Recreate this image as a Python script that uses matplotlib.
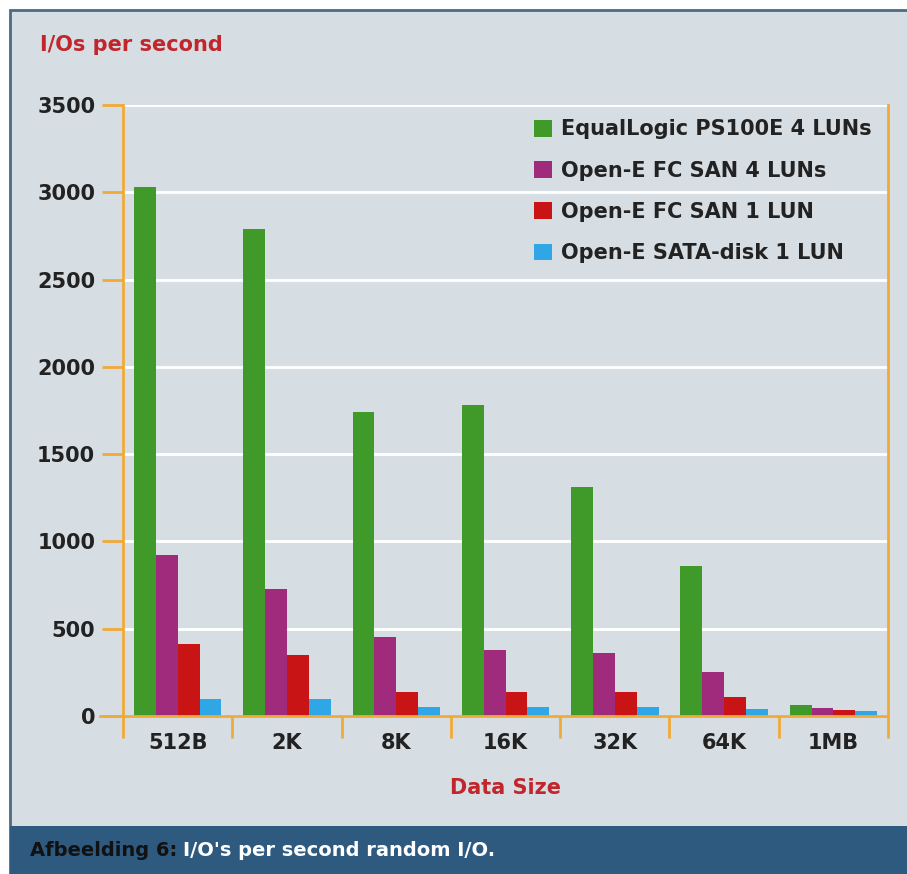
import matplotlib
matplotlib.use("Agg")

import matplotlib.pyplot as plt
import numpy as np
from matplotlib.patches import Rectangle

# data
sizes = ["512B", "2K", "8K", "16K", "32K", "64K", "1MB"]
equallogic_4 = [3030, 2790, 1740, 1780, 1310, 860, 65]
opene_fc_4 = [920, 730, 450, 378, 360, 250, 45]
opene_fc_1 = [410, 350, 135, 135, 135, 110, 35]
opene_sata_1 = [100, 100, 50, 50, 50, 40, 30]

series_names = ["EqualLogic PS100E 4 LUNs", "Open-E FC SAN 4 LUNs",
                "Open-E FC SAN 1 LUN", "Open-E SATA-disk 1 LUN"]
series_colors = ["#3f9a2a", "#a02a7c", "#c81414", "#2fa6e6"]

bg = "#d7dee3"
orange = "#f0aa38"
red_text = "#c0262c"
dark = "#222222"

plt.rcParams["font.family"] = "DejaVu Sans"

fig = plt.figure(figsize=(9.07, 8.74), dpi=100)
fig.patch.set_facecolor("white")

# panel background and caption banner
fig.patches.append(Rectangle((10 / 907, 0), 1, 1 - 10 / 874, transform=fig.transFigure,
                             facecolor=bg, edgecolor="#4d6b82", linewidth=2, zorder=-2))
fig.patches.append(Rectangle((10 / 907, 0), 1, 48 / 874, transform=fig.transFigure,
                             facecolor="#2d5a7e", edgecolor="none", zorder=-1))
cap1 = fig.text(30 / 907, 24 / 874, "Afbeelding 6:", color="#111111", fontsize=14,
                fontweight="bold", va="center")
renderer = fig.canvas.get_renderer()
bb = cap1.get_window_extent(renderer)
fig.text((bb.x1 + 6) / 907, 24 / 874, "I/O's per second random I/O.", color="white",
         fontsize=14, fontweight="bold", va="center")

ax = fig.add_axes([123 / 907, 1 - 716 / 874, (888 - 123) / 907, (716 - 105) / 874])
ax.set_facecolor("none")

x = np.arange(len(sizes))
width = 0.2
all_series = [equallogic_4, opene_fc_4, opene_fc_1, opene_sata_1]
for i, (vals, name, col) in enumerate(zip(all_series, series_names, series_colors)):
    ax.bar(x + (i - 1.5) * width, vals, width, color=col, label=name, zorder=3)

ax.set_xlim(-0.5, len(sizes) - 0.5)
ax.set_ylim(0, 3500)

# axis styling
for side in ["left", "bottom", "right"]:
    ax.spines[side].set_color(orange)
    ax.spines[side].set_linewidth(2)
ax.spines["top"].set_visible(False)
ax.spines["bottom"].set_zorder(4)
ax.plot([-0.03, 0], [0, 0], color=orange, lw=2, transform=ax.transAxes, clip_on=False)

ax.set_yticks(np.arange(0, 3501, 500))
ax.tick_params(axis="y", length=15, width=2, color=orange, pad=5,
               labelsize=15, labelcolor=dark)
ax.set_xticks(np.arange(len(sizes) + 1) - 0.5)
ax.set_xticklabels([])
ax.set_xticks(x, minor=True)
ax.set_xticklabels(sizes, minor=True)
ax.tick_params(axis="x", which="major", length=16, width=2, color=orange)
ax.tick_params(axis="x", which="minor", length=0, pad=12, labelsize=15, labelcolor=dark)
ax.tick_params(axis="y", right=False)
for lab in ax.get_yticklabels() + ax.get_xticklabels(minor=True):
    lab.set_fontweight("bold")

ax.grid(axis="y", color="white", linewidth=2, zorder=1)
ax.set_axisbelow(True)

fig.text(40 / 907, 1 - 45 / 874, "I/Os per second", color=red_text, fontsize=15,
         fontweight="bold", va="center")
fig.text(505 / 907, 1 - 788 / 874, "Data Size", color=red_text, fontsize=15,
         fontweight="bold", va="center", ha="center")

leg = ax.legend(loc="upper right", bbox_to_anchor=(882 / 907, 1 - 109 / 874),
                bbox_transform=fig.transFigure, frameon=False, handlelength=0.85,
                handleheight=0.85, handletextpad=0.45, labelspacing=1.02, borderpad=0,
                prop={"size": 15, "weight": "bold"})
for t in leg.get_texts():
    t.set_color(dark)

fig.savefig("out.png", dpi=100, facecolor=fig.get_facecolor())
